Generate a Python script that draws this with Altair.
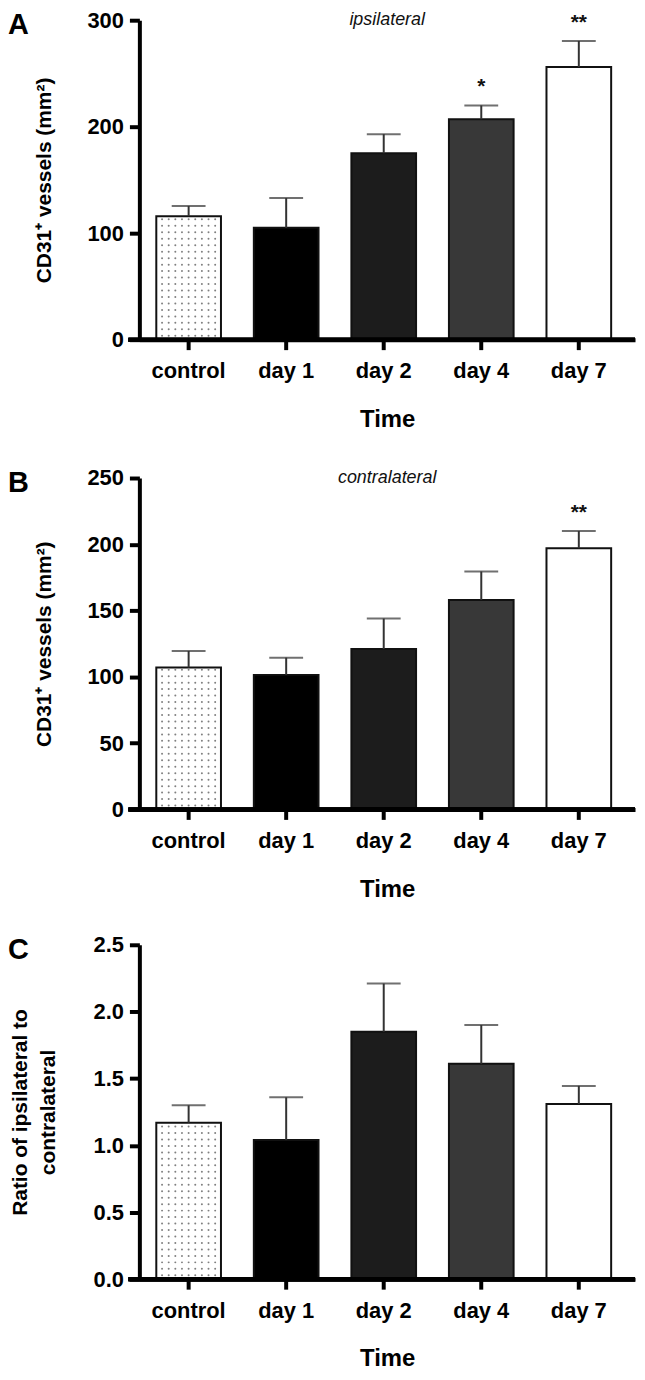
import altair as alt
import pandas as pd

categories = ["control", "day 1", "day 2", "day 4", "day 7"]
fills = ["#ffffff", "#000000", "#1c1c1c", "#383838", "#ffffff"]

ipsi_mean = [116, 105, 175, 207, 256]
ipsi_err = [9.5, 28, 18, 13, 24.5]
ipsi_stars = ["", "", "", "*", "**"]

contra_mean = [107, 101.5, 121, 158, 197]
contra_err = [12.5, 13, 23, 21.5, 13]
contra_stars = ["", "", "", "", "**"]

ratio_mean = [1.17, 1.04, 1.85, 1.61, 1.31]
ratio_err = [0.13, 0.32, 0.36, 0.29, 0.135]
ratio_stars = ["", "", "", "", ""]

FONT = "Liberation Sans"
W = 498
DOT_OFFSETS = [-26.7 + 6.67 * i for i in range(9)]


def panel(letter, subtitle, ytitle, mean, err, stars, ymax, ystep, height, fmt, ytitle_pad):
    df = pd.DataFrame({
        "cat": categories,
        "mean": mean,
        "top": [m + e for m, e in zip(mean, err)],
        "fill": fills,
        "stars": stars,
    })
    base = alt.Chart(df)
    xs = alt.X("cat:N", sort=categories)
    x = alt.X("cat:N", sort=categories,
              scale=alt.Scale(paddingInner=0.337, paddingOuter=0.209, align=0.415),
              axis=alt.Axis(title="Time", labelAngle=0, labelPadding=11,
                            titlePadding=26, titleFontSize=24))
    yscale = alt.Scale(domain=[0, ymax], nice=False)
    y = alt.Y("mean:Q", scale=yscale,
              axis=alt.Axis(title=ytitle,
                            values=[round(i * ystep, 3) for i in range(int(round(ymax / ystep)) + 1)],
                            format=fmt, labelPadding=6, titlePadding=ytitle_pad, titleFontSize=21))
    bars = base.mark_bar(stroke="#111111", strokeWidth=2).encode(
        x=x, y=y, fill=alt.Fill("fill:N", scale=None))
    step = 6.5 * ymax / height
    dot_base = base.transform_filter(alt.datum.cat == "control").transform_calculate(
        rows=f"sequence({step*0.6}, datum.mean - {step*0.3}, {step})"
    ).transform_flatten(["rows"])
    dots = [dot_base.mark_circle(size=4, color="#808080", opacity=1, xOffset=dx).encode(
        x=xs, y=alt.Y("rows:Q", scale=yscale)) for dx in DOT_OFFSETS]
    rule = base.mark_rule(strokeWidth=2, color="#333333").encode(
        x=xs, y=alt.Y("mean:Q"), y2="top:Q")
    cap = base.mark_tick(size=34, thickness=2, color="#333333", orient="horizontal").encode(
        x=xs, y=alt.Y("top:Q"))
    star = base.mark_text(baseline="bottom", dy=-8, fontSize=21, fontWeight="bold",
                          font=FONT, color="#111111").encode(
        x=xs, y=alt.Y("top:Q"), text="stars:N")
    xline = base.mark_rule(strokeWidth=4, color="black").encode(
        x=alt.value(-11), x2=alt.value(W), y=alt.value(height))
    sub = alt.Chart(pd.DataFrame({"t": [subtitle]})).mark_text(
        font=FONT, fontStyle="italic", fontSize=18, color="#111111", baseline="middle").encode(
        x=alt.value(W / 2), y=alt.value(0), text="t:N")
    lab = alt.Chart(pd.DataFrame({"t": [letter]})).mark_text(
        font=FONT, fontWeight="bold", fontSize=29, color="black", baseline="top", align="left").encode(
        x=alt.value(-132), y=alt.value(-9), text="t:N")
    layers = [bars] + dots + [rule, cap, star, xline, lab]
    if subtitle:
        layers.append(sub)
    return alt.layer(*layers).properties(width=W, height=height)


a = panel("A", "ipsilateral", "CD31⁺ vessels (mm²)", ipsi_mean, ipsi_err, ipsi_stars,
          300, 100, 321, "d", 33)
b = panel("B", "contralateral", "CD31⁺ vessels (mm²)", contra_mean, contra_err, contra_stars,
          250, 50, 333, "d", 33)
c = panel("C", "", ["Ratio of ipsilateral to", "contralateral"], ratio_mean, ratio_err, ratio_stars,
          2.5, 0.5, 336, ".1f", 35)

chart = alt.vconcat(alt.vconcat(a, b, spacing=36), c, spacing=33).properties(
    padding={"left": 0, "top": -2, "right": 0, "bottom": 0}
).configure_view(stroke=None).configure_axis(
    labelFont=FONT, labelFontSize=22, labelFontWeight="bold", labelColor="black",
    titleFont=FONT, titleFontWeight="bold", titleColor="black",
    domainColor="black", domainWidth=4, tickColor="black", tickWidth=4, tickSize=10,
    grid=False, titleLineHeight=28,
)

chart.save("out.html", embed_options={"renderer": "svg", "actions": False})
